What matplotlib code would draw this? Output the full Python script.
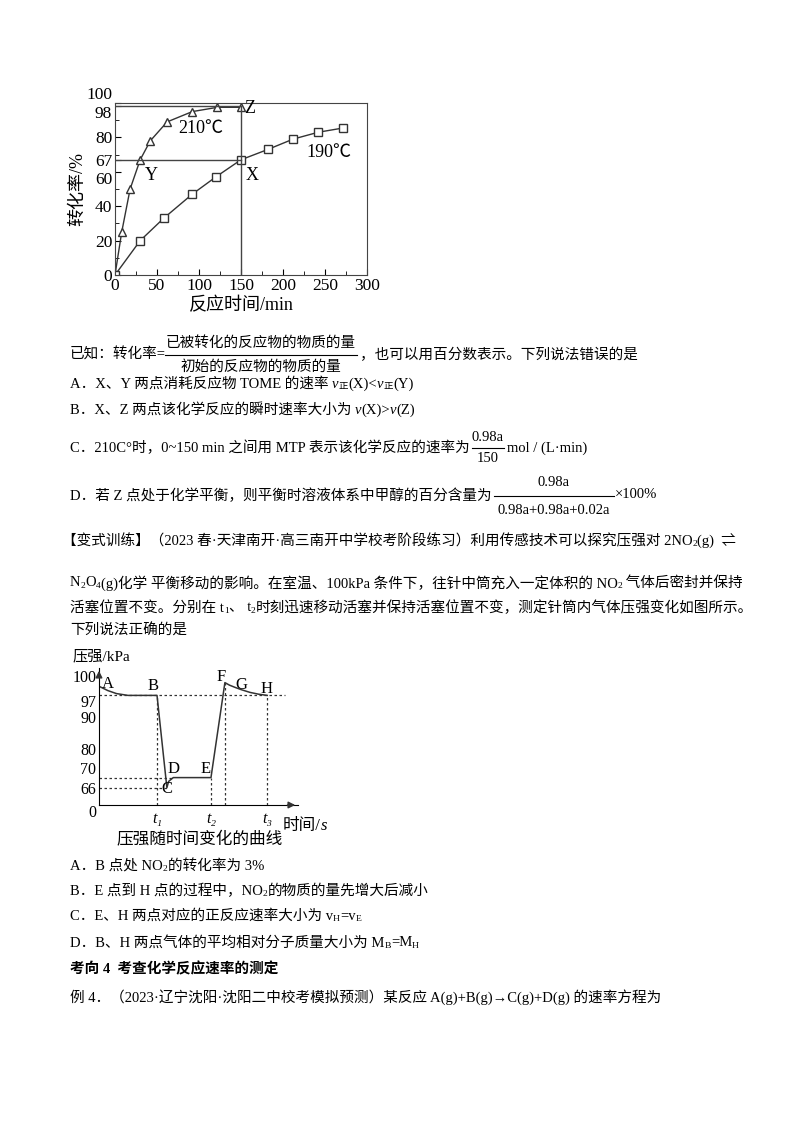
import numpy as np
import matplotlib
matplotlib.use("Agg")
import matplotlib.pyplot as plt

plt.rcParams['font.family'] = ['Liberation Serif', 'Noto Sans CJK SC', 'DejaVu Sans']

# chart 1 data
t210 = [0, 8, 18, 30, 42, 62, 92, 122, 150]
c210 = [0, 25, 50, 67, 78, 89, 95, 97.5, 97.5]
t190 = [0, 30, 58, 92, 120, 150, 182, 212, 242, 272]
c190 = [0, 20, 33, 47, 57, 67, 73, 79, 83, 85.5]
yt1 = [0, 20, 40, 60, 67, 80, 98, 100]
xt1 = [0, 50, 100, 150, 200, 250, 300]

# chart 2 data
t_curve = [0, 0.15, 0.3, 0.5, 1.0, 1.17, 1.2, 1.28, 1.93, 2.17, 2.25, 2.35, 2.45, 2.6, 2.75, 2.9]
p_curve = [100, 98.6, 97.6, 97.0, 97.0, 66, 68.5, 70, 70, 102, 100.6, 99.6, 98.9, 98.0, 97.4, 97.0]
p_vals = [0, 66, 70, 80, 90, 97, 100, 110]
p_pos = [0, 17, 27, 55, 87, 108, 117, 135]
yt2 = [0, 66, 70, 80, 90, 97, 100]

W, H = 800, 1132
fig = plt.figure(figsize=(8, 11.32), dpi=100)
R = fig.canvas.get_renderer()

def T(x, y, s, size=10.5, **kw):
    return fig.text(x / W, 1 - y / H, s, fontsize=size, va='center', ha=kw.pop('ha', 'left'), **kw)

def RT(x, y, parts, size=10.5):
    cx = x
    for s, k in parts:
        if k == 's':
            t = T(cx, y + 3, s, size=size * 0.65)
        elif k == 'i':
            t = T(cx, y, s, size=size, style='italic')
        else:
            t = T(cx, y, s, size=size)
        cx += t.get_window_extent(R).width
    return cx

def ax_at(l, t, r, b):
    return fig.add_axes([l / W, 1 - b / H, (r - l) / W, (b - t) / H])

# ---------- chart 1 ----------
ax = ax_at(115, 103, 367, 275)
ax.plot(t210, c210, '-^', color='#333', mfc='white', ms=6, lw=1)
ax.plot(t190, c190, '-s', color='#333', mfc='white', ms=6, lw=1)
ax.plot([0, 150], [98, 98], color='#444', lw=1)
ax.plot([0, 150], [67, 67], color='#444', lw=1)
ax.plot([150, 150], [0, 98], color='#444', lw=1)
ax.set_xlim(0, 300); ax.set_ylim(0, 100)
ax.set_xticks(xt1); ax.set_yticks(yt1)
ax.tick_params(direction='in', labelsize=12.5, length=4, pad=2)
ax.set_xticks([25, 75, 125, 175, 225, 275], minor=True)
ax.set_yticks([10, 30, 50, 70, 90], minor=True)
ax.tick_params(which='minor', direction='in', length=3)
for lbl, v in zip(ax.get_yticklabels(), yt1):
    if v == 100:
        lbl.set_va('bottom')
    elif v == 98:
        lbl.set_va('top')
    elif v == 60:
        lbl.set_va('top')
for s in ax.spines.values():
    s.set_color('#444')
ax.text(154, 97, 'Z', fontsize=13, va='center')
ax.text(35, 63, 'Y', fontsize=13, va='top')
ax.text(155, 63, 'X', fontsize=13, va='top')
ax.text(75, 85, '210℃', fontsize=13, va='center')
ax.text(228, 71, '190℃', fontsize=13, va='center')
ax.set_xlabel('反应时间/min', fontsize=13, labelpad=2)
ax.set_ylabel('转化率/%', fontsize=13, labelpad=0)

# ---------- text block 1 ----------
T(70, 355, '已知：转化率=')
T(261, 343, '已被转化的反应物的物质的量', ha='center')
T(261, 367, '初始的反应物的物质的量', ha='center')
fig.add_artist(plt.Line2D([165 / W, 357 / W], [1 - 355 / H] * 2, color='k', lw=0.8))
T(360, 355, '，也可以用百分数表示。下列说法错误的是')
RT(70, 384, [('A．X、Y 两点消耗反应物 TOME 的速率 ', 'n'), ('v', 'i'), ('正', 's'), ('(X)<', 'n'),
             ('v', 'i'), ('正', 's'), ('(Y)', 'n')])
RT(70, 410, [('B．X、Z 两点该化学反应的瞬时速率大小为 ', 'n'), ('v', 'i'), ('(X)>', 'n'),
             ('v', 'i'), ('(Z)', 'n')])
ex = RT(70, 448, [('C．210C°时，0~150 min 之间用 MTP 表示该化学反应的速率为', 'n')]) + 2
T(ex + 16, 437, '0.98a', ha='center')
T(ex + 16, 459, '150', ha='center')
fig.add_artist(plt.Line2D([ex / W, (ex + 32) / W], [1 - 448 / H] * 2, color='k', lw=0.8))
T(ex + 35, 448, 'mol / (L·min)')
ex = RT(70, 496, [('D．若 Z 点处于化学平衡，则平衡时溶液体系中甲醇的百分含量为', 'n')]) + 2
T(ex + 60, 483, '0.98a', ha='center')
T(ex + 60, 510, '0.98a+0.98a+0.02a', ha='center')
fig.add_artist(plt.Line2D([ex / W, (ex + 120) / W], [1 - 496 / H] * 2, color='k', lw=0.8))
T(ex + 121, 494, '×100%')

RT(62, 541, [('【变式训练】（2023 春·天津南开·高三南开中学校考阶段练习）利用传感技术可以探究压强对 2NO', 'n'),
             ('2', 's'), ('(g)  ⇌', 'n')])
RT(70, 583, [('N', 'n'), ('2', 's'), ('O', 'n'), ('4', 's'),
             ('(g)化学 平衡移动的影响。在室温、100kPa 条件下，往针中筒充入一定体积的 NO', 'n'),
             ('2', 's'), (' 气体后密封并保持', 'n')])
RT(70, 608, [('活塞位置不变。分别在 t', 'n'), ('1', 's'), ('、 t', 'n'), ('2', 's'),
             ('时刻迅速移动活塞并保持活塞位置不变，测定针筒内气体压强变化如图所示。', 'n')])
T(70, 631, '下列说法正确的是')

# ---------- chart 2 ----------
fwd = lambda v: np.interp(v, p_vals, p_pos)
inv = lambda p: np.interp(p, p_pos, p_vals)
ax2 = ax_at(99, 668, 298, 805)
ax2.set_yscale('function', functions=(fwd, inv))
ax2.set_ylim(0, 110.5)
ax2.set_xlim(0, 3.43)
ax2.plot(t_curve, p_curve, color='#333', lw=1.1)
for sp in ['top', 'right']:
    ax2.spines[sp].set_visible(False)
ax2.set_yticks(yt2)
ax2.set_yticklabels([str(v) for v in yt2])
ax2.set_xticks([1.0, 1.93, 2.9])
ax2.set_xticklabels(['t₁', 't₂', 't₃'], style='italic')
ax2.tick_params(length=0, labelsize=11.5, pad=4)
ax2.tick_params(axis='y', pad=2)
for lbl, v in zip(ax2.get_yticklabels(), yt2):
    if v in (100, 70):
        lbl.set_va('bottom')
    if v in (97, 0):
        lbl.set_va('top')
ax2.annotate('', xy=(3.43, 0), xytext=(3.2, 0), arrowprops=dict(arrowstyle='-|>', color='#333'), annotation_clip=False)
ax2.annotate('', xy=(0, 110.5), xytext=(0, 104), arrowprops=dict(arrowstyle='-|>', color='#333'), annotation_clip=False)
dk = dict(color='#333', lw=0.9, ls=(0, (2, 2)))
ax2.plot([0, 3.2], [97, 97], **dk)
ax2.plot([0, 1.28], [70, 70], **dk)
ax2.plot([0, 1.17], [66, 66], **dk)
for x, y in [(1.0, 97), (1.93, 70), (2.17, 102), (2.9, 97)]:
    ax2.plot([x, x], [0, y], **dk)
lab = [('A', 0.05, 101.5, 'left'), ('B', 0.93, 100.3, 'center'), ('C', 1.17, 62, 'center'),
       ('D', 1.28, 73, 'center'), ('E', 1.83, 73, 'center'), ('F', 2.1, 105, 'center'),
       ('G', 2.45, 100.8, 'center'), ('H', 2.88, 99.2, 'center')]
for s, x, y, ha in lab:
    ax2.text(x, y, s, fontsize=12, ha=ha, va='center')
T(73, 657, '压强/kPa', size=11)
RT(283, 826, [('时间/', 'n'), ('s', 'i')], size=12)
T(200, 840, '压强随时间变化的曲线', size=12, ha='center')

# ---------- text block 2 ----------
RT(70, 866, [('A．B 点处 NO', 'n'), ('2', 's'), ('的转化率为 3%', 'n')])
RT(70, 891, [('B．E 点到 H 点的过程中，NO', 'n'), ('2', 's'), ('的物质的量先增大后减小', 'n')])
RT(70, 916, [('C．E、H 两点对应的正反应速率大小为 v', 'n'), ('H', 's'), ('=v', 'n'), ('E', 's')])
RT(70, 943, [('D．B、H 两点气体的平均相对分子质量大小为 M', 'n'), ('B', 's'), ('=M', 'n'), ('H', 's')])
T(70, 969, '考向 4  考查化学反应速率的测定', weight='bold')
T(70, 997, '例 4．（2023·辽宁沈阳·沈阳二中校考模拟预测）某反应 A(g)+B(g)→C(g)+D(g) 的速率方程为')

fig.savefig('out.png', dpi=100, facecolor='white')
